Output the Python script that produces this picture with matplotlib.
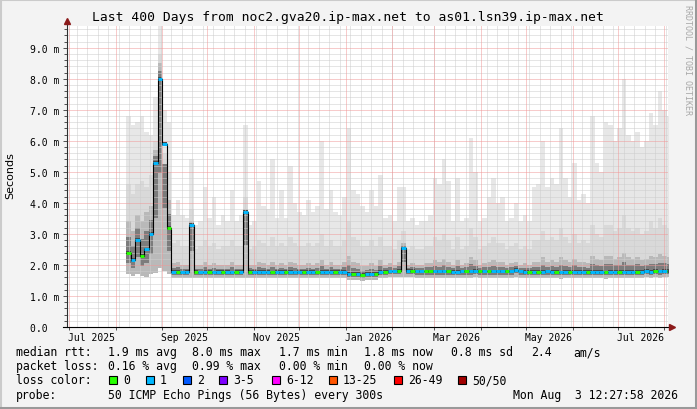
import pandas as pd
import numpy as np
import matplotlib
matplotlib.use('Agg')
import matplotlib.pyplot as plt
import matplotlib.dates as mdates
from matplotlib.ticker import MultipleLocator, FixedLocator
from matplotlib.patches import Rectangle
from matplotlib.lines import Line2D

# ---- data (3 day bins, median rtt in ms) ----
bin_start = '2025-08-07 20:00'
view_end = pd.Timestamp('2026-08-03 12:27:58')
view_start = view_end - pd.Timedelta(days=400)

median = [2.4, 2.15, 2.8, 2.3, 2.5, 3.0, 5.3, 8.0, 5.9, 3.2,
          1.77, 1.77, 1.76, 1.77, 3.3, 1.77, 1.76, 1.77, 1.77, 1.76,
          1.77, 1.77, 1.77, 1.76, 1.77, 1.77, 3.7, 1.78, 1.77, 1.77,
          1.77, 1.77, 1.76, 1.77, 1.77, 1.77, 1.77, 1.76, 1.77, 1.77,
          1.77, 1.77, 1.76, 1.77, 1.77, 1.77, 1.77, 1.77, 1.77, 1.70,
          1.70, 1.70, 1.69, 1.70, 1.70, 1.70, 1.77, 1.78, 1.79, 1.79,
          1.80, 2.55, 1.80, 1.80, 1.79, 1.79, 1.79, 1.79, 1.79, 1.79,
          1.79, 1.79, 1.78, 1.78, 1.79, 1.79, 1.79, 1.80, 1.79, 1.79,
          1.79, 1.79, 1.79, 1.79, 1.79, 1.79, 1.84, 1.79, 1.78, 1.78,
          1.78, 1.77, 1.77, 1.79, 1.78, 1.78, 1.76, 1.77, 1.78, 1.77,
          1.78, 1.77, 1.77, 1.78, 1.77, 1.78, 1.76, 1.77, 1.78, 1.77,
          1.78, 1.77, 1.77, 1.78, 1.77, 1.80, 1.78, 1.80, 1.79, 1.80, 1.80]

# loss class per bin: 0 -> 0 lost, 1 -> 1 lost
loss_class = [0, 1, 1, 0, 1, 1, 1, 1, 1, 0,
              1, 0, 1, 1, 1, 0, 1, 1, 0, 1,
              1, 0, 1, 1, 0, 1, 1, 0, 1, 1,
              1, 1, 0, 1, 1, 0, 1, 1, 1, 0,
              1, 1, 0, 1, 1, 1, 0, 1, 1, 1,
              0, 1, 0, 1, 1, 0, 1, 0, 1, 1,
              0, 1, 1, 0, 1, 1, 0, 0, 1, 1,
              1, 0, 1, 1, 1, 0, 1, 1, 0, 1,
              0, 1, 1, 1, 0, 1, 1, 1, 1, 0,
              1, 0, 1, 1, 1, 0, 1, 1, 0, 1,
              1, 1, 0, 1, 1, 1, 0, 1, 1, 0,
              1, 1, 1, 0, 1, 1, 1, 0, 1, 1, 0]

smoke_max = [6.8, 6.5, 6.6, 6.8, 6.3, 6.2, 7.4, 9.7, 7.0, 6.6,
             3.6, 4.1, 3.6, 3.5, 5.4, 3.3, 3.4, 4.5, 3.5, 4.2,
             3.3, 3.6, 3.4, 4.4, 3.4, 3.6, 6.5, 3.3, 3.4, 4.7,
             3.9, 3.8, 5.4, 3.5, 4.4, 3.5, 5.2, 4.0, 3.7, 3.6,
             4.1, 3.7, 3.9, 6.0, 3.8, 4.4, 3.7, 3.6, 4.2, 6.4,
             4.4, 4.3, 3.9, 3.7, 4.4, 3.9, 4.9, 3.5, 3.6, 3.4,
             4.5, 4.5, 3.4, 3.5, 3.3, 3.4, 3.4, 3.6, 4.8, 4.6,
             5.4, 4.7, 3.4, 4.8, 3.4, 3.5, 6.1, 5.0, 3.4, 3.5,
             4.2, 4.8, 4.0, 4.2, 3.4, 3.5, 4.0, 3.4, 3.6, 3.4,
             4.5, 4.6, 6.0, 4.5, 4.8, 4.6, 6.4, 4.8, 4.2, 5.3,
             4.1, 4.3, 4.0, 6.8, 5.3, 5.0, 6.6, 6.5, 6.0, 6.4,
             8.0, 6.2, 6.0, 6.3, 5.8, 6.0, 6.9, 6.5, 7.6, 7.0, 6.8]

smoke_mid = [4.6, 4.3, 4.6, 4.7, 4.5, 4.9, 6.0, 8.8, 5.6, 5.0,
             2.7, 2.8, 2.6, 2.6, 3.8, 2.5, 2.6, 2.8, 2.6, 2.7,
             2.5, 2.6, 2.6, 2.8, 2.6, 2.6, 4.2, 2.5, 2.6, 2.8,
             2.7, 2.6, 2.9, 2.6, 2.7, 2.6, 2.9, 2.7, 2.6, 2.6,
             2.7, 2.6, 2.7, 3.0, 2.6, 2.8, 2.6, 2.6, 2.8, 3.4,
             2.9, 2.8, 2.6, 2.6, 2.8, 2.6, 2.9, 2.6, 2.6, 2.5,
             2.8, 3.1, 2.5, 2.6, 2.5, 2.5, 2.6, 2.6, 2.9, 2.8,
             3.0, 2.8, 2.5, 2.9, 2.5, 2.6, 3.2, 2.9, 2.5, 2.6,
             2.7, 2.9, 2.7, 2.7, 2.5, 2.6, 2.7, 2.5, 2.6, 2.5,
             2.8, 2.8, 3.1, 2.8, 2.9, 2.8, 3.2, 2.9, 2.7, 3.0,
             2.7, 2.8, 2.7, 3.3, 3.0, 2.9, 3.3, 3.3, 3.1, 3.2,
             3.6, 3.2, 3.1, 3.2, 3.0, 3.1, 3.4, 3.2, 3.5, 3.3, 3.2]

smoke_dark = [3.4, 3.1, 3.6, 3.4, 3.7, 3.9, 5.7, 8.5, 4.6, 4.1,
              2.05, 2.1, 2.0, 2.0, 3.4, 2.0, 2.0, 2.1, 2.0, 2.05,
              2.0, 2.0, 2.0, 2.1, 2.0, 2.0, 3.8, 2.0, 2.0, 2.1,
              2.05, 2.0, 2.1, 2.0, 2.05, 2.0, 2.1, 2.05, 2.0, 2.0,
              2.05, 2.0, 2.05, 2.15, 2.0, 2.1, 2.0, 2.0, 2.1, 2.3,
              2.1, 2.05, 1.95, 1.95, 2.05, 1.95, 2.15, 2.0, 2.05, 2.0,
              2.1, 2.7, 2.0, 2.05, 2.0, 2.0, 2.05, 2.05, 2.15, 2.1,
              2.2, 2.1, 2.0, 2.15, 2.0, 2.05, 2.25, 2.15, 2.0, 2.05,
              2.1, 2.15, 2.1, 2.1, 2.0, 2.05, 2.1, 2.0, 2.05, 2.0,
              2.1, 2.1, 2.25, 2.1, 2.15, 2.1, 2.25, 2.15, 2.1, 2.2,
              2.1, 2.1, 2.05, 2.3, 2.2, 2.15, 2.3, 2.3, 2.2, 2.25,
              2.4, 2.25, 2.2, 2.25, 2.15, 2.2, 2.3, 2.25, 2.35, 2.3, 2.25]

smoke_lo = [1.70, 1.65, 1.70, 1.65, 1.62, 1.70, 1.75, 1.90, 1.80, 1.70,
            1.58, 1.58, 1.57, 1.58, 1.58, 1.58, 1.57, 1.58, 1.58, 1.57,
            1.58, 1.58, 1.58, 1.57, 1.58, 1.58, 1.59, 1.58, 1.58, 1.58,
            1.58, 1.58, 1.57, 1.58, 1.58, 1.58, 1.58, 1.57, 1.58, 1.58,
            1.58, 1.58, 1.57, 1.58, 1.58, 1.58, 1.58, 1.58, 1.58, 1.50,
            1.50, 1.50, 1.49, 1.50, 1.50, 1.50, 1.58, 1.59, 1.60, 1.60,
            1.60, 1.62, 1.60, 1.60, 1.59, 1.59, 1.59, 1.59, 1.59, 1.59,
            1.59, 1.59, 1.58, 1.58, 1.59, 1.59, 1.59, 1.60, 1.59, 1.59,
            1.59, 1.59, 1.59, 1.59, 1.59, 1.59, 1.62, 1.59, 1.58, 1.58,
            1.58, 1.57, 1.57, 1.59, 1.58, 1.58, 1.56, 1.57, 1.58, 1.57,
            1.58, 1.57, 1.57, 1.58, 1.57, 1.58, 1.56, 1.57, 1.58, 1.57,
            1.58, 1.57, 1.57, 1.58, 1.57, 1.60, 1.58, 1.60, 1.59, 1.60, 1.60]

loss_labels = ['0', '1', '2', '3-5', '6-12', '13-25', '26-49', '50/50']
loss_colors = ['#26ff00', '#00b8ff', '#0059ff', '#7e00ff', '#ff00ff', '#ff5500', '#ff0000', '#a10000']

rtt_avg, rtt_max, rtt_min, rtt_now, rtt_sd, rtt_ams = 1.9, 8.0, 1.7, 1.8, 0.8, 2.4
loss_avg, loss_max, loss_min, loss_now = 0.16, 0.99, 0.00, 0.00

title = 'Last 400 Days from noc2.gva20.ip-max.net to as01.lsn39.ip-max.net'
probe_text = '50 ICMP Echo Pings (56 Bytes) every 300s'
stamp_text = 'Mon Aug  3 12:27:58 2026'

# ---- figure ----
W, H = 697, 410
mono = 'DejaVu Sans Mono'
plt.rcParams['font.family'] = mono

def fx(x):
    return x / W

def fy(y):
    return 1 - y / H

fig = plt.figure(figsize=(W / 100, H / 100), dpi=100, facecolor='#f3f3f3')
ax = fig.add_axes([fx(67), fy(328), (668 - 67) / W, (328 - 27) / H])
ax.set_facecolor('white')

n = len(median)
edges = mdates.date2num(pd.date_range(bin_start, periods=n + 1, freq='3D'))

def stepv(v):
    v = np.asarray(v, dtype=float)
    return np.append(v, v[-1])

med = np.asarray(median)
lo = np.asarray(smoke_lo)
dk = np.asarray(smoke_dark)

# smoke, light to dark
ax.fill_between(edges, stepv(lo), stepv(smoke_max), step='post', color='#e7e7e7', lw=0, zorder=1)
ax.fill_between(edges, stepv(lo), stepv(smoke_mid), step='post', color='#d9d9d9', lw=0, zorder=1.1)
ax.fill_between(edges, stepv(lo), stepv(dk), step='post', color='#b9b9b9', lw=0, zorder=1.2)
ax.fill_between(edges, stepv((lo + med) / 2), stepv((med + dk) / 2), step='post', color='#7c7c7c', lw=0, zorder=1.3)
ax.fill_between(edges, stepv(med - 0.06), stepv(med + 0.06), step='post', color='#4a4a4a', lw=0, zorder=1.4)

x0 = mdates.date2num(view_start)
x1 = mdates.date2num(view_end)
ax.set_xlim(x0, x1)
ax.set_ylim(0, 9.7)

# grid (drawn over the smoke like rrdtool)
dot = (0, (1, 1))
for d in pd.date_range('2025-07-06', view_end, freq='W-SUN'):
    ax.axvline(mdates.date2num(d), color='#cdcdcd', lw=0.72, ls=dot, zorder=2)
for v in np.arange(0.2, 9.7, 0.2):
    if abs(v - round(v)) > 0.01:
        ax.axhline(v, color='#cdcdcd', lw=0.72, ls=dot, zorder=2)
for d in pd.date_range('2025-07-01', view_end, freq='MS'):
    ax.axvline(mdates.date2num(d), color='#f09898', lw=0.72, ls=dot, zorder=2.1)
for v in range(1, 10):
    ax.axhline(v, color='#f09898', lw=0.72, ls=dot, zorder=2.1)

# median line + loss colour
ax.step(edges, stepv(med), where='post', color='black', lw=0.8, zorder=3)
ax.hlines(med, edges[:-1], edges[1:], colors=[loss_colors[c] for c in loss_class],
          lw=2.1, zorder=4, capstyle='butt')

# axes
for s in ax.spines.values():
    s.set_visible(False)
ax.plot([0, 0], [0, 1.012], transform=ax.transAxes, color='#303030', lw=0.8, clip_on=False, zorder=5)
ax.plot([-0.006, 1.006], [0, 0], transform=ax.transAxes, color='black', lw=0.8, clip_on=False, zorder=5)
ax.plot([0], [1.016], marker='^', ms=4.5, color='#8b1a1a', transform=ax.transAxes, clip_on=False, zorder=6)
ax.plot([1.007], [0], marker='>', ms=4.5, color='#8b1a1a', transform=ax.transAxes, clip_on=False, zorder=6)

ax.set_yticks(range(10))
ax.set_yticklabels(['0.0  '] + ['%d.0 m' % v for v in range(1, 10)])
ax.yaxis.set_minor_locator(MultipleLocator(0.2))
ax.tick_params(axis='y', which='major', length=3, width=0.7, color='#505050', pad=2.5, labelsize=7)
ax.tick_params(axis='y', which='minor', length=2, width=0.7, color='#505050')

label_months = ['2025-07-16', '2025-09-16', '2025-11-16', '2026-01-16', '2026-03-16', '2026-05-16', '2026-07-16']
ax.xaxis.set_major_locator(FixedLocator([mdates.date2num(pd.Timestamp(d)) for d in label_months]))
ax.xaxis.set_major_formatter(mdates.DateFormatter('%b %Y'))
ax.xaxis.set_minor_locator(mdates.MonthLocator())
ax.tick_params(axis='x', which='major', length=0, pad=3.5, labelsize=7)
ax.tick_params(axis='x', which='minor', length=2, width=0.7, color='#505050')

# texts
fig.text(fx(347.5), fy(18), title, ha='center', va='center', fontsize=9.4, family=mono)
fig.text(fx(10), fy(176), 'Seconds', rotation=90, ha='center', va='center', fontsize=8, family='DejaVu Sans')
fig.text(fx(688), fy(60), 'RRDTOOL / TOBI OETIKER', rotation=270, ha='center', va='center',
         fontsize=6, family=mono, color='#a8a8a8')

fs = 8.3
rows = [
    (353, [('median rtt:', 16), ('%.1f ms avg' % rtt_avg, 108), ('%.1f ms max' % rtt_max, 192),
           ('%.1f ms min' % rtt_min, 279), ('%.1f ms now' % rtt_now, 364), ('%.1f ms sd' % rtt_sd, 451),
           ('%.1f' % rtt_ams, 531), ('am/s', 573)]),
    (367, [('packet loss:', 16), ('%.2f %% avg' % loss_avg, 108), ('%.2f %% max' % loss_max, 192),
           ('%.2f %% min' % loss_min, 279), ('%.2f %% now' % loss_now, 364)]),
    (381, [('loss color:', 16)]),
    (396, [('probe:', 16), (probe_text, 108), (stamp_text, 513)]),
]
for y, items in rows:
    for s, x in items:
        fig.text(fx(x), fy(y), s, ha='left', va='center', fontsize=fs, family=mono)

box_x = [109, 146, 183, 219, 272, 329, 394, 458]
for lab, col, bx in zip(loss_labels, loss_colors, box_x):
    fig.patches.append(Rectangle((fx(bx), fy(385)), 8 / W, 8 / H, transform=fig.transFigure,
                                 facecolor=col, edgecolor='black', lw=0.8))
    fig.text(fx(bx + 14), fy(381), lab, ha='left', va='center', fontsize=fs, family=mono)

# frame shade
fig.add_artist(Line2D([0, 1], [1 - 1 / H, 1 - 1 / H], color='#cbcbcb', lw=1.5, transform=fig.transFigure))
fig.add_artist(Line2D([1 / W, 1 / W], [0, 1], color='#cbcbcb', lw=1.5, transform=fig.transFigure))
fig.add_artist(Line2D([0, 1], [1.5 / H, 1.5 / H], color='#999999', lw=2.2, transform=fig.transFigure))
fig.add_artist(Line2D([1 - 1.5 / W, 1 - 1.5 / W], [0, 1], color='#999999', lw=2.2, transform=fig.transFigure))

fig.savefig('out.png', dpi=100, facecolor=fig.get_facecolor())
